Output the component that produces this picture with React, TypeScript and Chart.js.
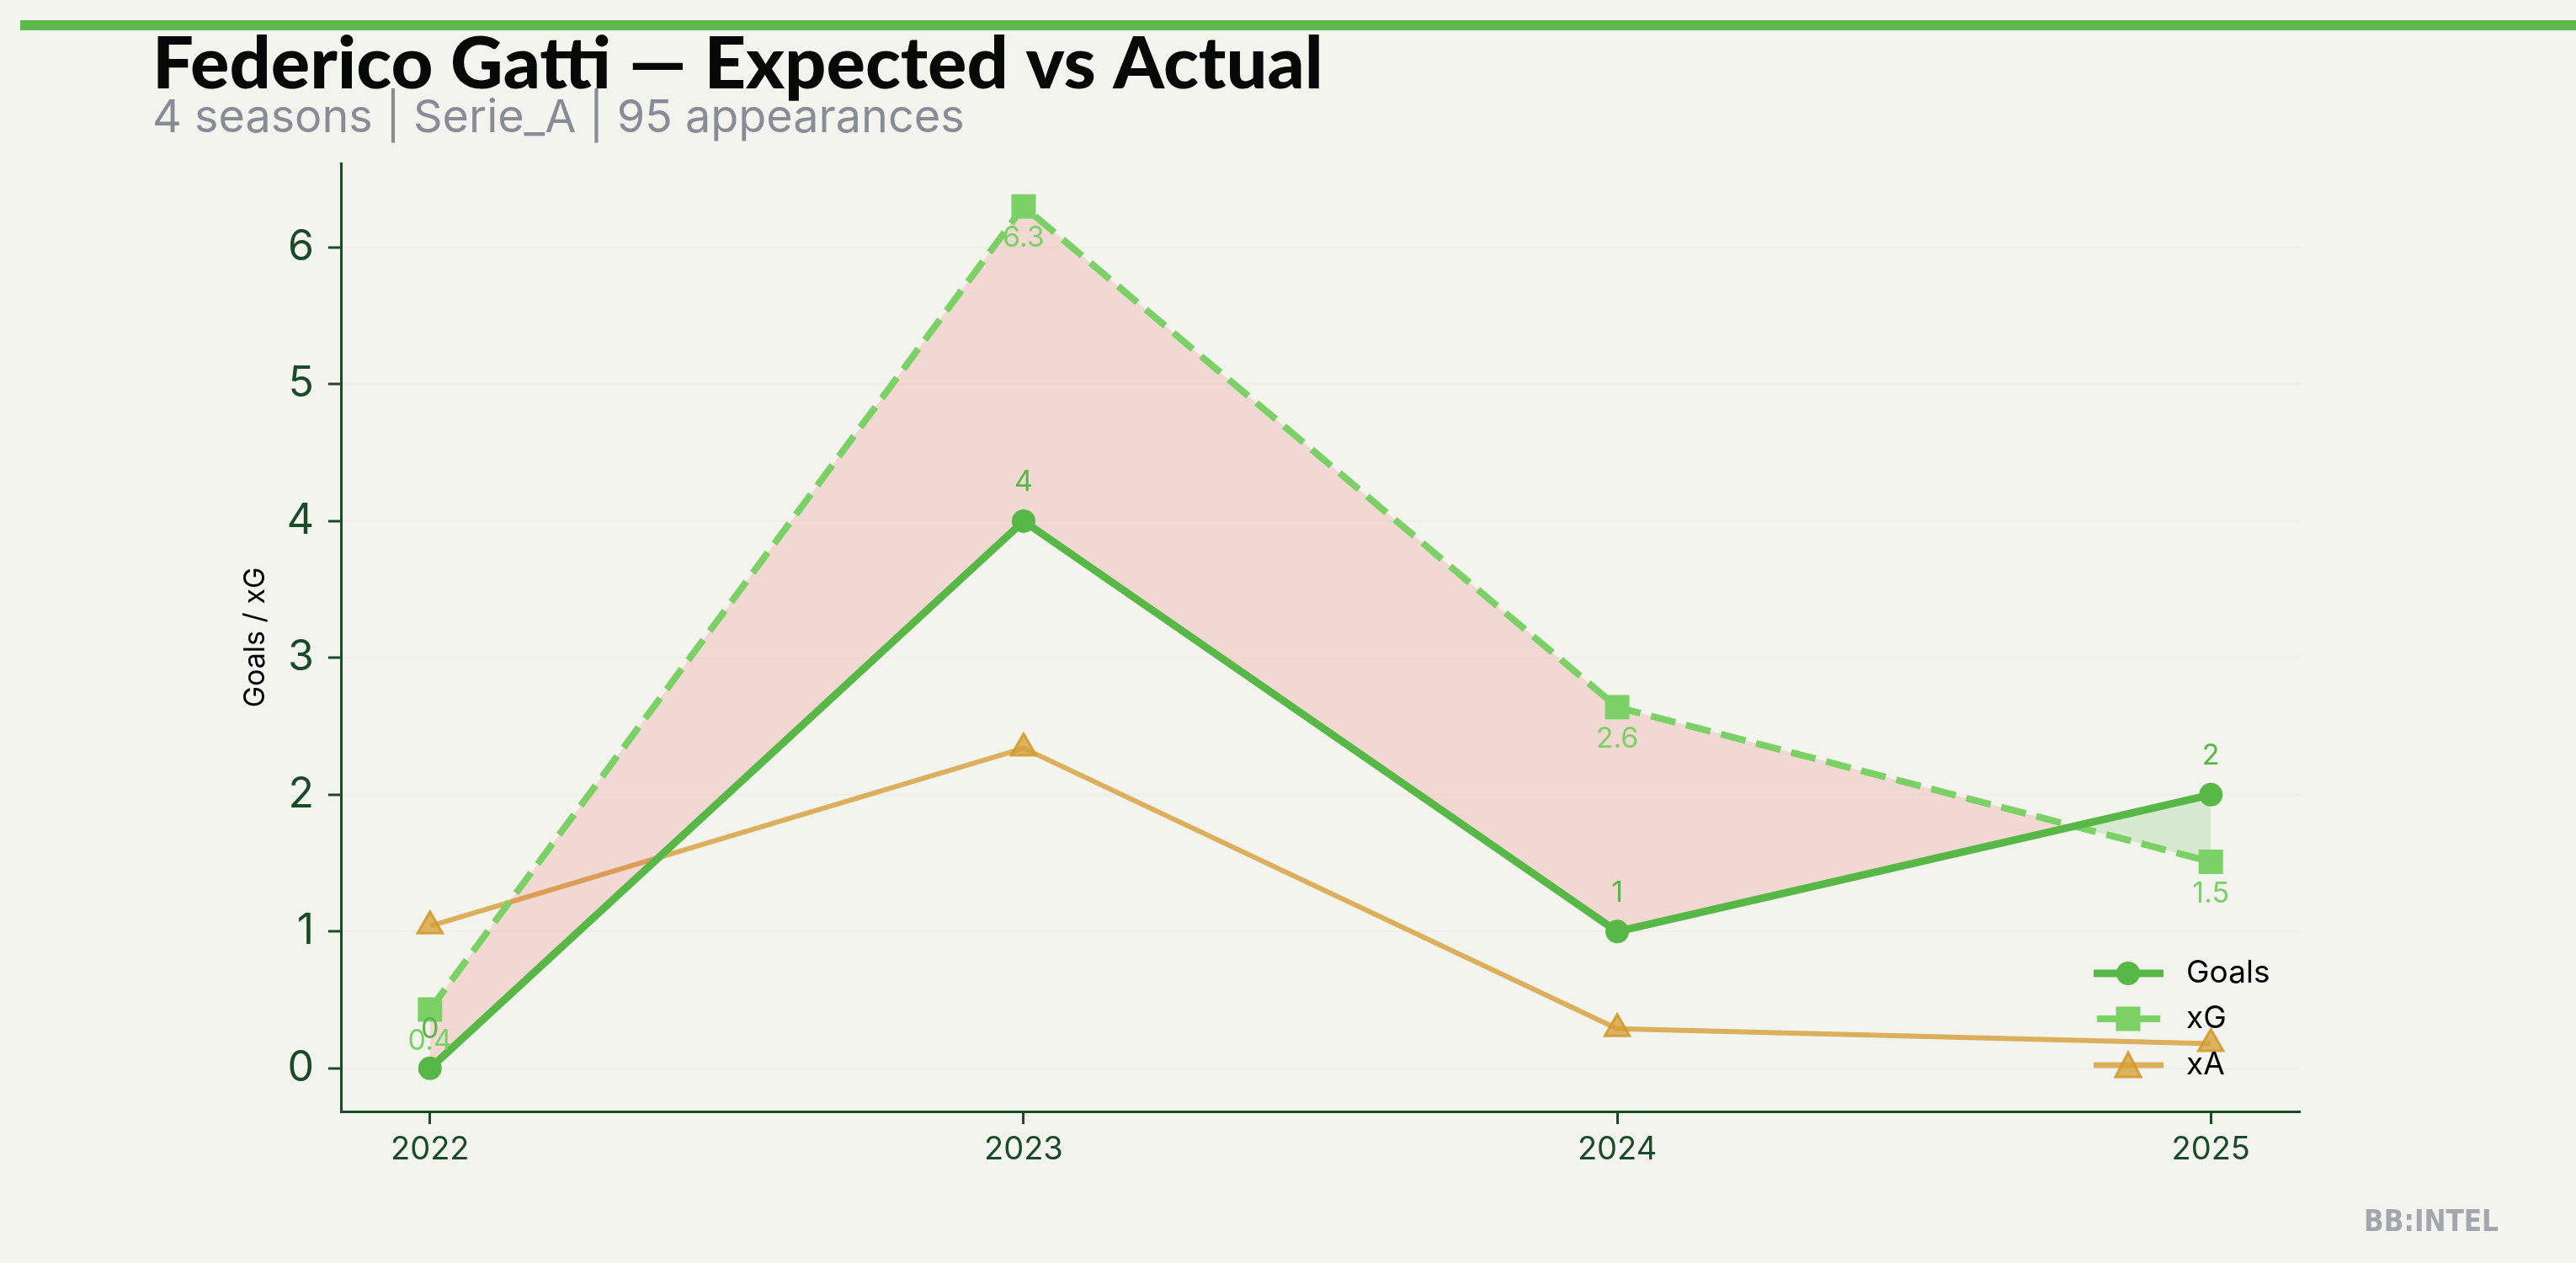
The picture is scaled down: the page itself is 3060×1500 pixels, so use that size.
import React, { useEffect, useRef } from "react";
import { Chart, registerables } from "chart.js";

Chart.register(...registerables);

// ---- data ----
const seasons = [2022, 2023, 2024, 2025];
const goals = [0, 4, 1, 2];
const xG = [0.43, 6.3, 2.64, 1.51];
const xA = [1.04, 2.34, 0.29, 0.18];
const yTicks = [0, 1, 2, 3, 4, 5, 6];
const seriesNames = ["Goals", "xG", "xA"];
const titleText = "Federico Gatti \u2014 Expected vs Actual";
const subtitleText = "4 seasons | Serie_A | 95 appearances";
const yAxisTitle = "Goals / xG";
const watermarkText = "BB:INTEL";

// ---- style ----
const W = 3060;
const H = 1500;
const BG = "#f4f4ef";
const AXIS = "#1b4a26";
const C_GOALS = "#58b847";
const C_XG = "#7bd165";
const C_XA = "rgba(214,160,58,0.82)";
const C_XA_FILL = "rgba(214,160,58,0.78)";
const C_XA_EDGE = "rgba(210,155,45,0.9)";
const AREA = { left: 405, right: 2732, top: 194, bottom: 1320 };

const allVals = [...goals, ...xG, ...xA];
const yMinData = Math.min(...allVals);
const yMaxData = Math.max(...allVals);
const yPad = (yMaxData - yMinData) * 0.05;
const xPad = (seasons[seasons.length - 1] - seasons[0]) * 0.05;

function toPts(vals: number[]) {
  return seasons.map((s, i) => ({ x: s, y: vals[i] }));
}

function fitFont(ctx: CanvasRenderingContext2D, text: string, weight: string, family: string, base: number, target: number) {
  ctx.font = `${weight} ${base}px ${family}`;
  const w = ctx.measureText(text).width;
  return base * target / w;
}

const decorPlugin = {
  id: "decor",
  beforeDraw(chart: any) {
    const ctx = chart.ctx as CanvasRenderingContext2D;
    ctx.save();
    ctx.fillStyle = BG;
    ctx.fillRect(0, 0, W, H);
    // top bar
    ctx.fillStyle = "#5cb94b";
    ctx.fillRect(24, 24, W - 24, 12);
    // title
    const tf = fitFont(ctx, titleText, "900", "Lato, 'DejaVu Sans', sans-serif", 80, 1391);
    ctx.font = `900 ${tf}px Lato, 'DejaVu Sans', sans-serif`;
    ctx.fillStyle = "#070908";
    ctx.textBaseline = "alphabetic";
    ctx.textAlign = "left";
    ctx.fillText(titleText, 181, 105);
    // subtitle
    const sf = fitFont(ctx, subtitleText, "400", "Inter, sans-serif", 54, 965);
    ctx.font = `400 ${sf}px Inter, sans-serif`;
    ctx.fillStyle = "#878c97";
    ctx.fillText(subtitleText, 181, 157);
    // watermark
    const wf = fitFont(ctx, watermarkText, "bold", "'Liberation Sans Narrow', 'DejaVu Sans Condensed', sans-serif", 40, 160);
    ctx.font = `bold ${wf}px 'Liberation Sans Narrow', 'DejaVu Sans Condensed', sans-serif`;
    ctx.fillStyle = "#a3a6ad";
    ctx.fillText(watermarkText, 2808, 1462);
    // y axis title
    ctx.translate(304, (AREA.top + AREA.bottom) / 2);
    ctx.rotate(-Math.PI / 2);
    ctx.font = "400 34px Inter, sans-serif";
    ctx.fillStyle = "#000";
    ctx.textAlign = "center";
    ctx.textBaseline = "middle";
    ctx.fillText(yAxisTitle, 0, 0);
    ctx.restore();
  },
  afterDatasetsDraw(chart: any) {
    const ctx = chart.ctx as CanvasRenderingContext2D;
    ctx.save();
    ctx.font = "400 34px Inter, sans-serif";
    ctx.textAlign = "center";
    ctx.textBaseline = "middle";
    const mg = chart.getDatasetMeta(0);
    ctx.fillStyle = C_GOALS;
    mg.data.forEach((p: any, i: number) => {
      ctx.fillText(String(goals[i]), p.x, p.y - 46);
    });
    const mx = chart.getDatasetMeta(1);
    ctx.fillStyle = C_XG;
    mx.data.forEach((p: any, i: number) => {
      ctx.fillText(xG[i].toFixed(1), p.x, p.y + 38);
    });
    ctx.restore();
  },
  afterDraw(chart: any) {
    const ctx = chart.ctx as CanvasRenderingContext2D;
    ctx.save();
    const rows = [1156, 1210, 1265];
    const x0 = 2487, x1 = 2570, xm = 2528, tx = 2597;
    // Goals
    ctx.strokeStyle = C_GOALS;
    ctx.lineWidth = 9;
    ctx.beginPath(); ctx.moveTo(x0, rows[0]); ctx.lineTo(x1, rows[0]); ctx.stroke();
    ctx.fillStyle = C_GOALS;
    ctx.beginPath(); ctx.arc(xm, rows[0], 14, 0, Math.PI * 2); ctx.fill();
    // xG
    ctx.strokeStyle = C_XG;
    ctx.lineWidth = 8;
    ctx.beginPath(); ctx.moveTo(x0 + 4, rows[1]); ctx.lineTo(x1 - 4, rows[1]); ctx.stroke();
    ctx.fillStyle = C_XG;
    ctx.fillRect(xm - 14.5, rows[1] - 14.5, 29, 29);
    // xA
    ctx.strokeStyle = C_XA;
    ctx.lineWidth = 7;
    ctx.beginPath(); ctx.moveTo(x0, rows[2]); ctx.lineTo(x1, rows[2]); ctx.stroke();
    ctx.fillStyle = C_XA_FILL;
    ctx.strokeStyle = C_XA_EDGE;
    ctx.lineWidth = 3;
    ctx.beginPath();
    ctx.moveTo(xm, rows[2] - 15);
    ctx.lineTo(xm + 15, rows[2] + 14);
    ctx.lineTo(xm - 15, rows[2] + 14);
    ctx.closePath();
    ctx.fill(); ctx.stroke();
    // text
    ctx.fillStyle = "#000";
    ctx.font = "400 37px Inter, sans-serif";
    ctx.textAlign = "left";
    ctx.textBaseline = "middle";
    seriesNames.forEach((n, i) => ctx.fillText(n, tx, rows[i]));
    ctx.restore();
  },
};

export default function App() {
  const ref = useRef<HTMLCanvasElement | null>(null);
  useEffect(() => {
    document.body.style.background = BG;
    const canvas = ref.current!;
    const chart = new Chart(canvas, {
      type: "line",
      data: {
        datasets: [
          {
            label: seriesNames[0],
            data: toPts(goals),
            borderColor: C_GOALS,
            backgroundColor: C_GOALS,
            borderWidth: 9,
            pointStyle: "circle",
            pointRadius: 14,
            pointBackgroundColor: C_GOALS,
            pointBorderWidth: 0,
            tension: 0,
            fill: false,
          },
          {
            label: seriesNames[1],
            data: toPts(xG),
            borderColor: C_XG,
            backgroundColor: C_XG,
            borderWidth: 8,
            borderDash: [30, 13],
            pointStyle: "rect",
            pointRadius: 20.5,
            pointBackgroundColor: C_XG,
            pointBorderWidth: 0,
            tension: 0,
            fill: { target: 0, above: "rgba(231,76,60,0.16)", below: "rgba(90,185,74,0.18)" },
          },
          {
            label: seriesNames[2],
            data: toPts(xA),
            borderColor: C_XA,
            backgroundColor: C_XA_FILL,
            borderWidth: 6,
            pointStyle: "triangle",
            pointRadius: 17,
            pointBackgroundColor: C_XA_FILL,
            pointBorderColor: C_XA_EDGE,
            pointBorderWidth: 3,
            tension: 0,
            fill: false,
          },
        ],
      },
      options: {
        responsive: false,
        animation: false,
        devicePixelRatio: 1,
        layout: { padding: { top: AREA.top, right: W - AREA.right, bottom: 0, left: 0 } },
        plugins: {
          legend: { display: false },
          tooltip: { enabled: false },
          title: { display: false },
        },
        scales: {
          x: {
            type: "linear",
            min: seasons[0] - xPad,
            max: seasons[seasons.length - 1] + xPad,
            afterBuildTicks: (s: any) => { s.ticks = seasons.map((v) => ({ value: v })); },
            afterFit: (s: any) => { s.height = H - AREA.bottom; },
            ticks: {
              color: AXIS,
              font: { family: "Inter, sans-serif", size: 38 },
              padding: 8,
              callback: (v: any) => String(v),
              autoSkip: false,
              maxRotation: 0,
            },
            grid: {
              drawOnChartArea: false,
              drawTicks: true,
              tickLength: 15,
              tickWidth: 3,
              tickColor: AXIS,
            },
            border: { display: true, color: AXIS, width: 3 },
          },
          y: {
            type: "linear",
            min: yMinData - yPad,
            max: yMaxData + yPad,
            afterBuildTicks: (s: any) => { s.ticks = yTicks.map((v) => ({ value: v })); },
            afterFit: (s: any) => { s.width = AREA.left; },
            ticks: {
              color: AXIS,
              font: { family: "Inter, sans-serif", size: 50 },
              padding: 17,
              callback: (v: any) => String(v),
            },
            grid: {
              color: "#efefe9",
              lineWidth: 2,
              drawTicks: true,
              tickLength: 15,
              tickWidth: 3,
              tickColor: AXIS,
            },
            border: { display: true, color: AXIS, width: 3 },
          },
        },
      },
      plugins: [decorPlugin],
    } as any);
    return () => chart.destroy();
  }, []);
  return (
    <div style={{ position: "absolute", left: 0, top: 0, width: W, height: H, background: BG }}>
      <canvas ref={ref} width={W} height={H} style={{ display: "block", width: W, height: H }} />
    </div>
  );
}
